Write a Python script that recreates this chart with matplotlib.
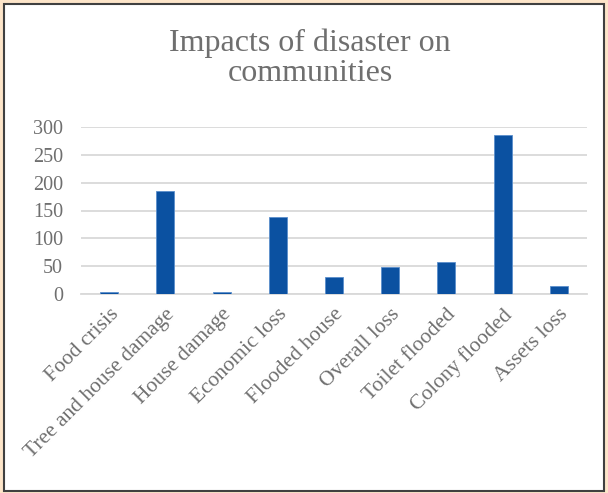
import matplotlib
matplotlib.use("Agg")
import matplotlib.pyplot as plt
from matplotlib.patches import Rectangle

categories = ["Food crisis", "Tree and house damage", "House damage", "Economic loss",
              "Flooded house", "Overall loss", "Toilet flooded", "Colony flooded", "Assets loss"]
values = [3, 185, 3, 138, 31, 49, 57, 285, 15]
yticks = [0, 50, 100, 150, 200, 250, 300]

W, H = 608, 493
plt.rcParams['font.family'] = ['Liberation Serif', 'DejaVu Serif']
text_color = "#6f6f6f"

fig = plt.figure(figsize=(W / 100, H / 100), dpi=100, facecolor="#fde5c9")
fig.patches.append(Rectangle((4 / W, (H - 490.7) / H), (604 - 4) / W, (490.7 - 4) / H,
                             transform=fig.transFigure, facecolor="white",
                             edgecolor="#404040", linewidth=1.5, zorder=-1))

ax = fig.add_axes([81 / W, 1 - 294 / H, (587 - 81) / W, (294 - 127) / H])
ax.set_zorder(2)
ax.set_facecolor("none")
x = range(len(categories))
ax.bar(x, values, width=0.32, color="#0b51a1", edgecolor="#5b8fcc", linewidth=0.6, zorder=3)
ax.set_xlim(-0.5, len(categories) - 0.5)
ax.set_ylim(0, 300)
ax.set_yticks(yticks)
ax.set_yticklabels([str(v) for v in yticks], fontsize=14.5, color=text_color)
ax.yaxis.grid(True, color="#d9d9d9", linewidth=1.3, zorder=0)
ax.set_xticks(list(x))
ax.set_xticklabels(categories, rotation=45, ha="right", va="top", rotation_mode="anchor",
                   fontsize=15.5, color=text_color)
ax.tick_params(axis="both", length=0)
ax.tick_params(axis="y", pad=13)
ax.tick_params(axis="x", pad=8)
for s in ["top", "right", "left"]:
    ax.spines[s].set_visible(False)
ax.spines["bottom"].set_color("#d9d9d9")
ax.spines["bottom"].set_linewidth(1.3)

t = fig.text(310 / W, 1 - 58 / H, "Impacts of disaster on\ncommunities", ha="center", va="center",
             fontsize=23, color=text_color, linespacing=1.05)
t.set_zorder(3)
fig.savefig("out.png", dpi=100, facecolor=fig.get_facecolor())
